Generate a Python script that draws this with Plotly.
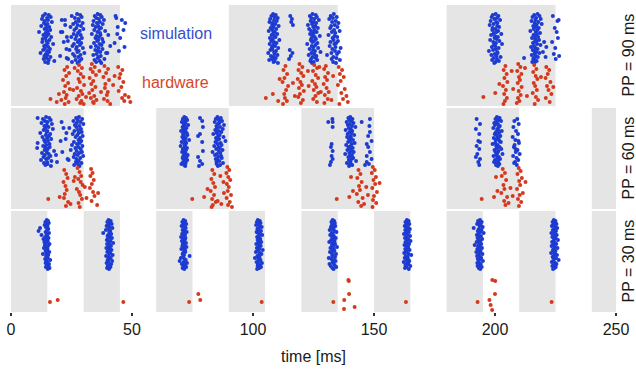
import plotly.graph_objects as go
from plotly.subplots import make_subplots

# ---------------- data ----------------
X_MAX = 250
X_TICKS = [0, 50, 100, 150, 200, 250]
PP_LABELS = ["PP = 90 ms", "PP = 60 ms", "PP = 30 ms"]
SERIES_LABELS = ["simulation", "hardware"]

# stimulation windows (ms) per pattern period
STIM_PP90 = [(0, 45), (90, 135), (180, 225)]
STIM_PP60 = [(0, 30), (60, 90), (120, 150), (180, 210), (240, 270)]
STIM_PP30 = [(0, 15), (30, 45), (60, 75), (90, 105), (120, 135),
             (150, 165), (180, 195), (210, 225), (240, 255)]

# simulated neuron ids (top -> bottom); hardware neuron ids are 0..40
SIM_NEURONS = list(range(90, 40, -1))

# ---- PP = 90 ms, simulation: one spike time per neuron per burst ----
SIM90_BURSTS = [
    [14.1, 15.6, 13.2, 16.4, 14.9, 12.8, 15.3, 14.0, 16.9, 13.6, 15.1, 14.4, 12.5, 15.8, 14.7, 13.9, 16.2,
     15.0, 11.6, 14.3, 15.5, 13.4, 14.8, 16.6, 14.2, 13.1, 15.9, 14.6, 12.9, 15.2, 17.4, 14.5, 13.7, 15.4,
     14.0, 16.1, 13.3, 14.9, 15.7, 12.2, 14.4, 15.0, 13.8, 16.3, 14.7, 13.5, 15.6, 17.9, 14.1, 15.3],
    [27.3, 28.6, 25.1, 29.2, 26.4, 27.9, 22.3, 28.1, 26.8, 29.6, 25.7, 27.5, 28.9, 24.6, 27.0, 29.9, 26.2,
     28.4, 21.2, 27.7, 25.9, 28.8, 27.1, 24.9, 29.3, 26.6, 28.2, 23.5, 27.6, 29.0, 26.0, 28.5, 25.4, 27.2,
     29.7, 26.9, 24.2, 28.0, 27.4, 30.3, 25.6, 28.7, 26.3, 27.8, 23.0, 29.1, 26.7, 28.3, 25.2, 27.5],
    [35.8, 36.9, 34.6, 37.5, 35.2, 36.3, 38.4, 34.1, 36.7, 35.5, 37.9, 33.8, 36.1, 35.0, 37.2, 36.5, 34.4,
     38.9, 35.7, 36.8, 33.4, 37.0, 35.3, 36.4, 34.9, 37.7, 36.0, 35.6, 38.1, 34.3, 36.6, 37.4, 35.1, 33.0,
     36.2, 37.8, 34.8, 35.9, 36.9, 39.3, 35.4, 34.0, 37.1, 36.3, 35.8, 38.6, 34.5, 36.7, 35.2, 37.3],
    [108.3, 109.4, 107.6, 108.9, 110.2, 107.1, 108.7, 109.8, 106.8, 108.1, 109.2, 107.9, 110.6, 108.5,
     107.3, 109.6, 108.0, 106.5, 109.0, 108.4, 110.0, 107.7, 108.8, 109.3, 107.0, 108.2, 110.9, 107.5,
     108.6, 109.7, 106.9, 108.4, 109.1, 107.8, 110.4, 108.0, 107.2, 109.5, 108.7, 106.3, 108.9, 110.1,
     107.4, 108.3, 109.4, 107.9, 106.7, 109.0, 108.5, 110.3],
    [124.6, 125.9, 123.5, 126.4, 124.1, 125.3, 127.2, 123.8, 125.0, 126.1, 124.4, 122.7, 125.7, 124.9,
     126.8, 123.2, 125.4, 124.0, 126.3, 125.1, 123.6, 124.7, 127.6, 125.5, 124.2, 126.0, 123.9, 125.2,
     124.5, 126.6, 122.4, 125.8, 124.3, 125.0, 126.9, 123.4, 124.8, 125.6, 127.9, 124.1, 125.3, 123.0,
     126.2, 124.6, 125.9, 124.0, 126.5, 123.7, 125.1, 124.4],
    [133.4, None, 132.1, 134.6, 133.0, 131.5, None, 134.2, 132.7, 135.3, None, 133.8, 132.3, 134.9, 131.9,
     None, 133.5, 135.8, 132.6, 134.0, None, 131.2, 133.7, 134.8, 132.9, None, 133.3, 135.1, 132.0, 134.4,
     133.6, None, 131.7, 134.1, 136.2, 132.8, None, 133.9, 135.5, 132.4, 134.7, 130.6, None, 133.2, 134.5,
     132.5, 135.9, None, 133.1, 134.3],
    [200.3, 199.1, 201.4, 198.6, 200.8, 199.7, 202.1, 198.2, 200.5, 201.0, 199.4, 197.8, 200.9, 201.7,
     199.0, 200.2, 198.9, 201.3, 200.6, 199.5, 202.6, 198.4, 200.0, 201.2, 199.8, 200.7, 198.0, 201.8,
     199.3, 200.4, 202.9, 199.6, 200.1, 198.7, 201.5, 200.3, 199.2, 197.5, 200.9, 201.1, 199.9, 198.5,
     200.6, 202.3, 199.4, 200.8, 198.8, 201.6, 200.2, 199.7],
    [217.6, 216.2, 218.4, 215.5, 217.0, 218.9, 216.7, 215.1, 217.9, 216.4, 219.3, 217.2, 215.8, 216.9,
     218.1, 216.0, 217.5, 214.6, 216.8, 218.6, 217.3, 215.9, 216.5, 217.8, 215.3, 216.6, 218.2, 217.1,
     216.3, 215.7, 217.4, 218.8, 216.1, 214.9, 216.7, 217.6, 215.6, 216.2, 217.0, 218.3, 216.4, 215.2,
     216.9, 217.7, 216.0, 215.8, 216.6, 217.2, 215.4, 216.3],
]
SIM90_EXTRA_T = [43.5, 45.8, 47.2, 44.1, 46.5, 43.9, 45.1, 42.8, 46.9, 44.6, 43.2,
                 21.0, 22.4, 20.6, 23.1, 21.8, 22.9, 20.3, 23.6, 40.2, 41.0, 39.8,
                 115.4, 116.1, 115.8, 116.5, 115.2, 116.3, 115.6, 114.9,
                 223.9, 226.3, 225.8, 224.7, 225.5, 226.0, 223.6, 224.9, 224.3, 226.5, 225.1,
                 220.3, 221.2, 219.8, 220.9, 212.0]
SIM90_EXTRA_N = [86, 84, 81, 77, 74, 70, 66, 61, 57, 53, 88,
                 84, 79, 72, 67, 62, 55, 48, 45, 69, 58, 51,
                 88, 85, 82, 79, 54, 51, 48, 45,
                 88, 84, 83, 76, 72, 66, 62, 56, 50, 48, 45,
                 62, 57, 52, 47, 46]

# ---- PP = 90 ms, hardware ----
HW90_T = [23.2, 22.1, 24.0, 22.8, 21.5, 23.6, 22.4, 24.3, 21.9, 23.0, 22.6, 20.8, 23.8, 22.2,
          28.1, 29.3, 27.6, 28.8, 29.9, 27.9, 28.4, 30.2, 27.3, 28.9, 29.5, 28.0, 27.1, 29.1, 28.6, 30.0,
          33.4, 34.6, 32.9, 33.8, 35.1, 32.5, 34.0, 33.2, 34.9, 33.6, 32.3, 34.4, 33.0, 35.3, 33.9, 34.2,
          38.6, 40.1, 39.3, 38.2, 40.5, 39.0, 38.8, 40.0, 39.6, 38.4, 39.9, 41.0,
          44.3, 46.0, 45.2, 44.8, 46.4, 45.6, 44.5, 47.1, 45.9, 46.8, 48.6, 49.3,
          16.3, 19.8, 25.7, 31.0, 36.5, 42.2, 18.9, 26.3, 37.2, 42.8,
          113.4, 112.6, 114.1, 113.0, 112.2, 114.5, 113.7, 112.9, 113.2, 114.0, 112.4,
          119.2, 120.4, 118.8, 119.9, 120.8, 118.5, 119.6, 120.2, 119.0, 121.0, 119.4, 118.7, 120.6, 119.8,
          125.3, 126.5, 124.8, 125.9, 126.9, 124.5, 125.6, 126.2, 125.1, 127.0, 125.8, 124.9, 126.4,
          130.1, 129.4, 131.0, 129.8, 130.6, 129.2, 130.4, 131.3, 129.7, 130.9, 129.5,
          135.4, 136.8, 135.9, 137.5, 136.2, 135.1, 137.9, 136.5, 138.6, 137.2, 139.2, 135.7,
          105.3, 108.2, 110.4, 116.5, 122.7, 128.0, 133.1, 111.0, 117.3, 123.0, 132.4, 127.4,
          204.3, 203.6, 204.8, 203.9, 205.1, 203.3, 204.5, 203.8, 204.9, 204.1, 203.5,
          209.6, 210.5, 209.2, 210.9, 209.9, 210.3, 209.4, 211.0, 209.8, 210.6, 209.5, 210.1, 209.0,
          216.2, 217.1, 215.8, 216.8, 217.5, 216.0, 216.6, 217.3, 215.6, 216.9, 217.8, 216.4,
          221.2, 222.4, 221.8, 220.9, 222.9, 221.5, 222.1, 223.3, 221.0, 222.6,
          195.2, 200.1, 201.8, 206.9, 213.2, 207.5, 219.0, 212.4, 224.1]
HW90_N = [37, 34, 31, 28, 24, 21, 18, 15, 12, 9, 6, 4, 2, 0,
          39, 36, 33, 30, 27, 25, 22, 19, 16, 13, 10, 8, 5, 3, 1, 0,
          40, 37, 35, 32, 29, 26, 23, 20, 17, 14, 11, 8, 6, 4, 2, 1,
          38, 35, 31, 27, 24, 20, 16, 12, 9, 5, 3, 0,
          37, 34, 30, 26, 22, 17, 13, 9, 6, 3, 7, 2,
          5, 10, 14, 7, 33, 19, 2, 36, 12, 28,
          38, 34, 30, 26, 22, 18, 14, 10, 6, 3, 0,
          40, 37, 34, 31, 28, 25, 22, 19, 16, 13, 10, 7, 4, 1,
          39, 36, 33, 29, 26, 23, 20, 17, 14, 11, 8, 5, 2,
          38, 35, 31, 27, 24, 20, 16, 12, 9, 5, 1,
          37, 34, 30, 27, 23, 19, 15, 11, 8, 5, 2, 0,
          6, 10, 3, 21, 33, 12, 28, 25, 8, 18, 4, 37,
          38, 34, 30, 26, 22, 18, 14, 10, 6, 3, 0,
          40, 37, 33, 30, 27, 24, 21, 17, 13, 9, 6, 3, 1,
          39, 35, 32, 28, 25, 21, 18, 14, 11, 7, 4, 0,
          37, 34, 30, 26, 22, 18, 14, 10, 6, 2,
          7, 11, 20, 33, 8, 15, 27, 36, 17]

# ---- PP = 60 ms, simulation ----
SIM60_BURSTS = [
    [14.5, 15.8, 13.2, 16.4, 14.0, 15.1, 12.6, 16.9, 14.7, 13.8, 15.5, 14.2, 17.3, 13.5, 15.0, 14.8, 12.1,
     16.2, 14.4, 15.7, 13.0, 14.9, 16.6, 13.7, 15.3, 14.1, 11.0, 15.9, 14.6, 13.3, 16.0, 14.3, 15.2, 13.9,
     17.8, 14.8, 12.8, 15.6, 14.0, 16.3, 13.4, 15.4, 14.5, 12.4, 16.7, 14.9, 13.6, 15.1, 14.2, 16.5],
    [28.1, 26.9, 29.4, 27.6, 25.8, 28.7, 27.2, 29.9, 26.4, 28.3, 27.0, 24.1, 28.9, 27.7, 26.2, 29.2, 28.0,
     25.5, 27.4, 29.6, 26.7, 28.5, 22.6, 27.9, 29.0, 26.0, 28.4, 27.3, 25.2, 29.5, 27.8, 26.6, 28.8, 24.7,
     27.1, 29.3, 28.2, 26.3, 27.5, 29.8, 25.9, 28.6, 27.0, 23.8, 28.0, 26.8, 29.1, 27.6, 26.1, 28.3],
    [71.6, 72.3, 71.0, 72.8, 71.9, 70.6, 72.1, 71.4, 73.2, 71.8, 70.9, 72.5, 71.2, 72.0, 70.3, 71.7, 72.6,
     71.1, 72.9, 71.5, 70.8, 72.2, 71.3, 73.6, 71.9, 70.5, 72.4, 71.6, 72.0, 70.1, 71.8, 72.7, 71.0, 72.3,
     71.4, 70.7, 72.1, 71.7, 73.0, 71.2, 72.5, 70.9, 71.5, 72.8, 71.9, 71.1, 72.2, 70.4, 71.6, 72.0],
    [85.3, 86.7, 84.6, 85.9, 87.2, 84.2, 86.1, 85.5, 88.0, 84.9, 86.4, 85.1, 87.5, 84.4, 85.8, 86.9, 85.0,
     83.6, 86.2, 85.6, 87.8, 84.7, 86.0, 85.2, 88.6, 84.5, 86.6, 85.4, 87.0, 84.0, 85.7, 86.3, 84.8, 87.4,
     85.9, 83.3, 86.5, 85.1, 84.3, 86.8, 85.6, 87.1, 84.6, 85.3, 86.1, 84.9, 87.6, 85.0, 86.4, 85.5],
    [140.2, 139.4, 141.1, 139.8, 140.6, 138.7, 141.5, 140.0, 139.2, 140.9, 142.3, 139.6, 140.4, 138.3,
     141.0, 139.9, 140.7, 139.1, 141.8, 140.3, 138.9, 140.5, 139.7, 141.3, 140.1, 139.3, 142.0, 140.8,
     138.5, 140.4, 139.5, 141.2, 140.0, 139.0, 140.6, 141.6, 139.8, 138.1, 140.9, 140.2, 139.4, 141.4,
     140.7, 139.6, 142.6, 140.3, 138.8, 140.1, 141.0, 139.7],
    [200.8, 201.9, 200.2, 201.4, 202.5, 200.6, 199.7, 201.2, 200.0, 202.0, 201.6, 199.3, 200.9, 201.3,
     202.8, 200.4, 201.7, 199.9, 200.7, 202.2, 201.0, 199.5, 201.5, 200.3, 201.8, 202.4, 200.1, 199.0,
     201.1, 200.5, 201.9, 200.8, 202.6, 199.8, 201.4, 200.2, 201.0, 203.1, 200.6, 199.4, 201.6, 200.9,
     202.1, 200.0, 201.3, 199.6, 200.7, 201.8, 200.4, 201.2],
]
SIM60_EXTRA_T = [11.0, 10.8, 20.5, 21.7, 22.9, 21.2, 23.4, 20.9, 18.6, 19.0,
                 78.1, 79.0, 79.3, 78.1, 77.3, 79.0, 79.3, 77.3, 78.1, 79.0, 77.7,
                 131.1, 132.8, 132.9, 132.9, 132.5, 132.2, 132.9, 132.5, 132.9, 132.2, 131.8,
                 144.9, 148.3, 148.1, 148.3, 147.6, 149.0, 147.0, 147.6, 148.3, 147.0, 149.0, 147.0, 147.9, 146.3,
                 192.4, 193.8, 192.1, 193.5, 193.1, 192.4, 193.5, 192.7, 192.1, 193.8, 193.1, 193.5, 193.8,
                 209.2, 208.0, 209.8, 207.6, 208.7, 209.5, 207.3, 208.4, 209.9, 208.1, 207.8, 209.3, 208.6,
                 210.2, 207.5, 208.9, 209.6, 208.3, 207.9, 209.0, 208.5, 209.7]
SIM60_EXTRA_N = [89, 59, 66, 79, 74, 55, 48, 85, 52, 45,
                 89, 86, 80, 73, 71, 65, 56, 50, 46, 43, 41,
                 85, 88, 85, 80, 63, 60, 56, 51, 48, 45, 42,
                 85, 88, 81, 75, 71, 66, 63, 60, 55, 51, 48, 45, 43, 42,
                 88, 83, 78, 73, 66, 61, 58, 53, 50, 48, 45, 42, 65,
                 88, 86, 83, 80, 76, 73, 70, 67, 64, 62, 60, 57, 55,
                 53, 51, 49, 47, 45, 44, 42, 58, 66]

# ---- PP = 60 ms, hardware ----
HW60_T = [15.4, 20.1, 22.0, 22.8, 23.4, 21.7, 22.5, 23.0, 22.2, 21.9, 23.6, 22.7,
          27.5, 28.3, 29.0, 27.8, 28.8, 29.6, 27.2, 28.1, 28.6, 29.3, 27.9, 28.4,
          33.1, 33.7, 32.8, 34.2, 33.4, 32.6, 33.9, 34.5, 33.3, 35.6, 36.0, 30.5, 25.9, 31.2, 24.6, 26.4,
          74.9, 79.8, 83.2, 84.0, 82.8, 83.6, 84.3, 82.5, 83.9, 83.1, 84.6, 83.4, 82.9,
          89.4, 90.2, 89.0, 89.8, 90.6, 89.2, 90.0, 89.6, 90.9, 89.1, 90.4, 89.7, 91.3,
          86.5, 87.8, 81.2, 85.4, 88.0, 86.9,
          134.6, 139.8, 140.5, 141.3, 143.6, 144.4, 143.1, 144.9, 143.8, 144.2, 142.9, 145.3, 143.5, 144.7,
          149.5, 150.3, 149.1, 150.8, 149.8, 150.5, 149.3, 151.2, 150.0, 149.6, 150.9, 149.4,
          152.3, 146.8, 147.5, 145.9,
          194.5, 199.6, 200.4, 201.0, 203.2, 204.1, 202.8, 204.6, 203.5, 203.9, 202.6, 205.0, 203.8, 204.3,
          209.8, 210.6, 209.3, 211.1, 210.0, 210.4, 209.1, 211.5, 210.2, 209.5, 210.8, 209.9,
          212.6, 206.4, 207.3, 205.6]
HW60_N = [8, 10, 37, 33, 29, 25, 21, 17, 13, 9, 5, 1,
          39, 35, 31, 28, 25, 22, 18, 15, 12, 8, 4, 0,
          38, 34, 31, 27, 23, 19, 15, 11, 6, 2, 14, 20, 26, 9, 3, 30,
          8, 10, 37, 33, 28, 24, 20, 16, 12, 8, 5, 2, 0,
          40, 37, 34, 30, 27, 23, 20, 16, 12, 9, 5, 2, 0,
          31, 25, 18, 6, 14, 3,
          8, 10, 30, 16, 37, 33, 29, 25, 21, 17, 13, 9, 5, 1,
          40, 37, 34, 30, 27, 23, 19, 15, 11, 7, 4, 0,
          24, 20, 12, 3,
          8, 10, 30, 16, 38, 34, 31, 27, 22, 18, 14, 10, 6, 2,
          39, 36, 33, 29, 26, 22, 18, 14, 12, 8, 5, 1,
          25, 19, 11, 4]

# ---- PP = 30 ms, simulation ----
SIM30_BURSTS = [
    [14.8, 15.3, 14.2, 15.6, 14.6, 13.9, 15.1, 14.4, 12.0, 15.4, 14.9, 11.4, 14.3, 15.7, 14.7, 12.6, 15.0,
     14.1, 15.5, 13.4, 14.8, 15.2, 13.8, 14.5, 15.9, 14.0, 15.3, 14.6, 13.6, 15.1, 14.9, 14.3, 15.8, 14.7,
     13.2, 15.4, 14.5, 14.9, 15.2, 14.1, 16.2, 14.6, 15.0, 14.3, 15.7, 14.8, 15.5, 14.4, 15.9, 15.2],
    [40.3, 41.2, 39.8, 40.9, 41.6, 40.1, 39.5, 40.7, 41.9, 40.4, 39.2, 41.0, 40.6, 38.1, 41.4, 40.2, 39.9,
     40.8, 41.7, 40.0, 39.6, 41.1, 40.5, 42.2, 39.7, 40.9, 41.3, 40.3, 39.4, 40.8, 41.5, 40.1, 39.8, 41.0,
     40.6, 42.0, 39.3, 40.4, 41.2, 40.7, 39.9, 41.8, 40.2, 39.5, 41.4, 40.9, 40.0, 41.1, 39.7, 40.5],
    [71.3, 72.0, 70.8, 71.6, 72.4, 71.0, 70.5, 71.8, 72.2, 71.4, 70.9, 71.7, 72.6, 71.2, 70.7, 71.9, 71.5,
     70.3, 72.1, 71.1, 71.8, 70.6, 71.4, 72.3, 71.0, 71.7, 70.8, 72.5, 71.3, 70.4, 71.9, 71.6, 72.0, 71.2,
     70.9, 71.5, 73.8, 71.1, 70.2, 71.7, 72.2, 69.7, 71.4, 72.7, 70.6, 71.8, 71.3, 72.4, 70.9, 71.6],
    [102.0, 102.8, 101.6, 103.1, 102.4, 101.3, 102.9, 103.6, 102.2, 101.8, 102.6, 103.3, 101.5, 102.1,
     102.9, 103.8, 102.4, 101.7, 102.7, 103.0, 101.9, 102.5, 103.4, 102.1, 101.4, 102.8, 103.2, 102.3,
     101.6, 102.6, 104.0, 102.0, 101.2, 102.9, 103.5, 102.4, 101.8, 102.7, 100.8, 102.2, 103.1, 102.5,
     101.5, 103.7, 102.0, 102.9, 101.9, 103.3, 102.6, 101.7],
    [132.9, 133.5, 132.4, 133.8, 133.1, 132.6, 134.0, 132.2, 133.3, 132.8, 131.7, 133.6, 134.5, 132.5,
     133.0, 131.9, 133.4, 132.7, 134.2, 133.2, 132.3, 133.7, 131.5, 132.9, 133.9, 132.6, 133.1, 134.7,
     132.0, 133.4, 132.8, 133.6, 131.8, 132.5, 134.3, 133.0, 132.7, 133.9, 131.3, 132.4, 133.5, 134.1,
     132.9, 133.2, 131.6, 133.7, 132.1, 134.4, 132.8, 133.3],
    [163.6, 164.3, 163.0, 163.9, 164.6, 163.2, 162.7, 164.0, 163.5, 164.8, 162.9, 163.7, 164.4, 163.1,
     162.4, 163.8, 164.9, 163.3, 162.8, 164.2, 163.6, 165.1, 163.0, 163.9, 164.5, 162.6, 163.4, 164.1,
     163.8, 162.9, 164.7, 163.2, 163.6, 162.5, 164.3, 165.4, 163.1, 163.9, 162.7, 164.0, 163.5, 164.6,
     162.3, 163.7, 164.2, 163.0, 165.0, 163.4, 162.8, 164.4],
    [193.8, 193.0, 194.5, 193.4, 192.6, 194.1, 193.7, 194.9, 191.2, 193.3, 194.4, 192.9, 193.9, 195.3,
     193.1, 192.5, 194.2, 193.6, 192.8, 194.7, 193.2, 193.9, 192.4, 193.5, 194.3, 191.6, 193.0, 193.8,
     194.6, 192.7, 193.4, 194.0, 192.3, 193.7, 194.8, 193.1, 192.6, 193.9, 194.3, 192.9, 193.5, 195.0,
     193.2, 192.7, 194.1, 193.6, 192.8, 194.5, 193.3, 193.9],
    [224.3, 225.0, 223.8, 224.7, 225.4, 224.1, 223.5, 224.9, 225.7, 224.4, 223.9, 225.2, 224.6, 223.3,
     224.8, 225.5, 224.0, 223.7, 225.1, 224.5, 226.0, 224.2, 223.6, 224.9, 225.3, 224.1, 223.4, 224.7,
     225.8, 224.3, 223.9, 225.0, 224.6, 223.2, 224.8, 225.6, 224.2, 223.8, 225.2, 224.5, 226.3, 224.0,
     223.5, 224.9, 225.4, 224.3, 223.7, 225.1, 224.6, 224.0],
]
SIM30_EXTRA_T = []
SIM30_EXTRA_N = []

# ---- PP = 30 ms, hardware ----
HW30_T = [16.1, 19.3, 46.4, 73.6, 77.4, 78.2, 103.6, 133.2, 139.4, 139.6, 139.7, 137.7, 137.6, 142.0,
          163.2, 192.8, 198.9, 200.1, 200.0, 197.7, 198.2, 198.8, 223.4]
HW30_N = [8, 10, 8, 8, 16, 10, 8, 8, 30, 29, 16, 10, 1, 3, 8, 8, 30, 29, 16, 10, 5, 0, 8]

# ---------------- styling ----------------
BLUE = "#1d3bd1"
RED = "#d5391d"
BLUE_TXT = "#3450d0"
RED_TXT = "#d7462a"
GRAY = "#e5e5e5"
FONT = "Liberation Sans, Arial, Helvetica, sans-serif"
TXT = "#1a1a1a"


def sim_points(bursts, extra_t, extra_n):
    t, n = [], []
    for burst in bursts:
        for ti, ni in zip(burst, SIM_NEURONS):
            if ti is not None:
                t.append(ti)
                n.append(ni)
    return t + list(extra_t), n + list(extra_n)


ROWS = [
    (STIM_PP90, sim_points(SIM90_BURSTS, SIM90_EXTRA_T, SIM90_EXTRA_N), (HW90_T, HW90_N)),
    (STIM_PP60, sim_points(SIM60_BURSTS, SIM60_EXTRA_T, SIM60_EXTRA_N), (HW60_T, HW60_N)),
    (STIM_PP30, sim_points(SIM30_BURSTS, SIM30_EXTRA_T, SIM30_EXTRA_N), (HW30_T, HW30_N)),
]

fig = make_subplots(rows=3, cols=1, shared_xaxes=True, vertical_spacing=2 / 307)

for r, (stim, (st, sn), (ht, hn)) in enumerate(ROWS, start=1):
    fig.add_trace(go.Scatter(x=st, y=sn, mode="markers", name=SERIES_LABELS[0],
                             marker=dict(size=4, color=BLUE, line=dict(width=0)),
                             showlegend=False, hoverinfo="skip"), row=r, col=1)
    fig.add_trace(go.Scatter(x=ht, y=hn, mode="markers", name=SERIES_LABELS[1],
                             marker=dict(size=4, color=RED, line=dict(width=0)),
                             showlegend=False, hoverinfo="skip"), row=r, col=1)
    xref = "x" if r == 1 else f"x{r}"
    yref = "y domain" if r == 1 else f"y{r} domain"
    for a, b in stim:
        fig.add_shape(type="rect", xref=xref, yref=yref, x0=a, x1=min(b, X_MAX), y0=0, y1=1,
                      fillcolor=GRAY, line_width=0, layer="below")
    fig.update_yaxes(range=[-2, 99], visible=False, row=r, col=1)
    fig.update_xaxes(range=[0, X_MAX], showgrid=False, zeroline=False, showline=False,
                     ticks="" if r < 3 else "outside", row=r, col=1)
    fig.add_annotation(text=PP_LABELS[r - 1], xref="paper", yref=yref, x=1 + 12 / 605, y=0.5,
                       textangle=-90, showarrow=False, xanchor="center", yanchor="middle",
                       font=dict(size=16, color=TXT, family=FONT))

fig.update_xaxes(tickvals=X_TICKS, ticktext=[str(v) for v in X_TICKS], ticklen=3, tickwidth=1.5,
                 tickcolor="#333333", tickfont=dict(size=16, color=TXT, family=FONT),
                 title=dict(text="time [ms]", font=dict(size=16, color=TXT, family=FONT), standoff=13),
                 row=3, col=1)

fig.add_annotation(text=SERIES_LABELS[0], x=68, y=71, xref="x", yref="y", showarrow=False,
                   font=dict(size=16, color=BLUE_TXT, family=FONT))
fig.add_annotation(text=SERIES_LABELS[1], x=68, y=22, xref="x", yref="y", showarrow=False,
                   font=dict(size=16, color=RED_TXT, family=FONT))

fig.update_layout(width=636, height=372, margin=dict(l=11, r=20, t=5, b=60),
                  plot_bgcolor="white", paper_bgcolor="white", showlegend=False,
                  font=dict(family=FONT, color=TXT))

fig.write_html("out.html", config={"displayModeBar": False, "staticPlot": True},
               post_script="document.body.style.margin='0';")
